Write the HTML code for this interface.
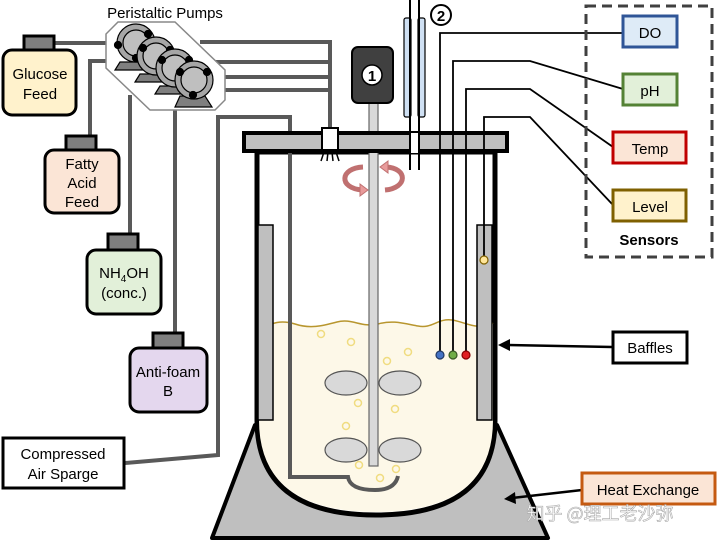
<!DOCTYPE html>
<html><head><meta charset="utf-8"><style>
html,body{margin:0;padding:0;background:#fff;}
svg{display:block;font-family:"Liberation Sans","Noto Sans CJK SC",sans-serif;}
</style></head><body>
<svg width="720" height="542" viewBox="0 0 720 542" xmlns="http://www.w3.org/2000/svg">
<!-- base -->
<polygon points="255,425 497,425 548,538 212,538" fill="#bfbfbf" stroke="#000" stroke-width="4" stroke-linejoin="round"/>
<!-- vessel -->
<path d="M257,152 L257,420 Q257,515 376,515 Q495,515 495,420 L495,152 Z" fill="#fff" stroke="#000" stroke-width="5"/>
<!-- liquid -->
<path d="M259,330 C272,322 282,320 295,324 C310,329 322,326 337,322 C352,318 362,328 378,324 C392,320 402,323 418,326 C432,329 438,318 452,320 C466,322 476,331 493,323 L493,420 Q493,512 376,512 Q259,512 259,420 Z" fill="#fdf8e8"/>
<path d="M259,330 C272,322 282,320 295,324 C310,329 322,326 337,322 C352,318 362,328 378,324 C392,320 402,323 418,326 C432,329 438,318 452,320 C466,322 476,331 493,323" fill="none" stroke="#b8962e" stroke-width="1.5"/>
<!-- baffles -->
<rect x="258" y="225" width="15" height="195" fill="#bfbfbf" stroke="#000" stroke-width="1.5"/>
<rect x="477" y="225" width="15" height="195" fill="#bfbfbf" stroke="#000" stroke-width="1.5"/>
<!-- bubbles -->
<g fill="none" stroke="#f0dc80" stroke-width="1.5">
<circle cx="321" cy="334" r="3.5"/><circle cx="351" cy="342" r="3.5"/><circle cx="387" cy="361" r="3.5"/><circle cx="408" cy="352" r="3.5"/>
<circle cx="358" cy="403" r="3.5"/><circle cx="395" cy="409" r="3.5"/><circle cx="346" cy="426" r="3.5"/><circle cx="359" cy="465" r="3.5"/><circle cx="396" cy="469" r="3.5"/><circle cx="380" cy="478" r="3.5"/>
</g>
<!-- impellers -->
<g fill="#d9d9d9" stroke="#555" stroke-width="1.2">
<ellipse cx="346" cy="383" rx="21" ry="12"/><ellipse cx="400" cy="383" rx="21" ry="12"/>
<ellipse cx="346" cy="450" rx="21" ry="12"/><ellipse cx="400" cy="450" rx="21" ry="12"/>
</g>
<!-- shaft -->
<rect x="369" y="100" width="9" height="366" fill="#d9d9d9" stroke="#666" stroke-width="1.2"/>
<!-- sparge line -->
<path d="M125,463 L218,455 L218,117 L290,117 L290,477 L348,477 Q350,490 375,490 Q395,490 398,476" fill="none" stroke="#595959" stroke-width="4"/>
<!-- lid -->
<rect x="244" y="133" width="263" height="18" fill="#bfbfbf" stroke="#000" stroke-width="4"/>
<!-- element 2 -->
<rect x="404" y="18" width="7" height="99" rx="2" fill="#cfe0f3" stroke="#000" stroke-width="1.2"/>
<rect x="418" y="18" width="7" height="99" rx="2" fill="#cfe0f3" stroke="#000" stroke-width="1.2"/>
<line x1="410" y1="0" x2="410" y2="170" stroke="#000" stroke-width="2"/>
<line x1="419" y1="0" x2="419" y2="170" stroke="#000" stroke-width="2"/>
<rect x="411" y="133" width="7" height="20" fill="#fff"/>
<circle cx="441" cy="15" r="10" fill="#fff" stroke="#000" stroke-width="2"/>
<text x="441" y="21" font-size="15" font-weight="bold" text-anchor="middle">2</text>
<!-- motor -->
<rect x="352" y="47" width="41" height="56" rx="6" fill="#404040" stroke="#000" stroke-width="2"/>
<circle cx="372" cy="75" r="10" fill="#fff" stroke="#000" stroke-width="1.5"/>
<text x="372" y="81" font-size="15" font-weight="bold" text-anchor="middle">1</text>
<!-- rotation arrows -->
<path d="M363,167 C340,168 338,188 362,190" fill="none" stroke="#c07070" stroke-width="5"/>
<path d="M385,190 C408,188 408,168 386,167" fill="none" stroke="#c07070" stroke-width="5"/>
<path d="M360,184 L368,190 L360,196 Z" fill="#e89a9a" stroke="#c07070"/>
<path d="M388,161 L380,167 L388,173 Z" fill="#e89a9a" stroke="#c07070"/>
<!-- probes -->
<g fill="none" stroke="#000" stroke-width="1.8">
<path d="M440,355 L440,33 L623,33"/>
<path d="M453,355 L453,61 L530,61 L623,89"/>
<path d="M466,355 L466,89 L530,89 L613,147"/>
<path d="M484,258 L484,117 L530,117 L613,205"/>
</g>
<circle cx="440" cy="355" r="4" fill="#4472c4" stroke="#203864" stroke-width="1.2"/>
<circle cx="453" cy="355" r="4" fill="#70ad47" stroke="#385723" stroke-width="1.2"/>
<circle cx="466" cy="355" r="4" fill="#e02020" stroke="#800" stroke-width="1.2"/>
<circle cx="484" cy="260" r="4" fill="#ffe699" stroke="#7f6000" stroke-width="1.2"/>
<!-- sensors -->
<rect x="586" y="6" width="126" height="251" fill="none" stroke="#404040" stroke-width="3" stroke-dasharray="10,6"/>
<rect x="623" y="16" width="54" height="31" fill="#deebf7" stroke="#2f5597" stroke-width="3"/>
<text x="650" y="38" font-size="15" text-anchor="middle">DO</text>
<rect x="623" y="74" width="54" height="31" fill="#e2f0d9" stroke="#548235" stroke-width="3"/>
<text x="650" y="96" font-size="15" text-anchor="middle">pH</text>
<rect x="613" y="132" width="73" height="31" fill="#fbe5d6" stroke="#c00000" stroke-width="3"/>
<text x="650" y="154" font-size="15" text-anchor="middle">Temp</text>
<rect x="613" y="190" width="73" height="31" fill="#fff2cc" stroke="#7f6000" stroke-width="3"/>
<text x="650" y="212" font-size="15" text-anchor="middle">Level</text>
<text x="649" y="245" font-size="15" font-weight="bold" text-anchor="middle">Sensors</text>
<!-- baffles label -->
<line x1="612" y1="347" x2="506" y2="345" stroke="#000" stroke-width="2.5"/>
<path d="M498,345 L510,339 L510,351 Z"/>
<rect x="613" y="332" width="74" height="31" fill="#fff" stroke="#000" stroke-width="3"/>
<text x="650" y="353" font-size="15" text-anchor="middle">Baffles</text>
<!-- heat exchange -->
<line x1="582" y1="490" x2="512" y2="498" stroke="#000" stroke-width="2.5"/>
<path d="M504,499 L515,492 L516,504 Z"/>
<rect x="582" y="473" width="133" height="31" fill="#fbe5d6" stroke="#c55a11" stroke-width="3"/>
<text x="648" y="495" font-size="15" text-anchor="middle">Heat Exchange</text>
<!-- feed lines -->
<g fill="none" stroke="#595959" stroke-width="4">
<path d="M54,43 L110,43"/>
<path d="M90,140 L90,61 L112,61"/>
<path d="M130,234 L130,95"/>
<path d="M175,333 L175,105"/>
<path d="M200,42 L330,42 L330,130"/>
<path d="M215,62 L330,62"/><path d="M220,77 L330,77"/><path d="M220,90 L330,90"/>
</g>
<!-- nozzle -->
<rect x="322" y="128" width="16" height="22" fill="#fff" stroke="#000" stroke-width="2"/>
<g stroke="#000" stroke-width="1.5"><line x1="324" y1="152" x2="321" y2="161"/><line x1="328" y1="152" x2="327" y2="161"/><line x1="332" y1="152" x2="333" y2="161"/><line x1="336" y1="152" x2="339" y2="161"/></g>
<!-- pumps -->
<polygon points="118,22 175,22 225,70 225,100 215,110 150,110 106,68 106,34" fill="#fff" stroke="#888" stroke-width="1.5"/>
<g stroke="#000" stroke-width="1.2">
<g><polygon points="120,62 145,62 150,70 115,70" fill="#7f7f7f"/><circle cx="136" cy="43" r="19" fill="#a6a6a6"/><circle cx="136" cy="43" r="13" fill="#bfbfbf"/><circle cx="148" cy="34" r="3.5" fill="#000"/><circle cx="118" cy="45" r="3.5" fill="#000"/><circle cx="136" cy="58" r="3.5" fill="#000"/></g>
<g><polygon points="140,74 165,74 170,82 135,82" fill="#7f7f7f"/><circle cx="156" cy="56" r="19" fill="#a6a6a6"/><circle cx="156" cy="56" r="13" fill="#bfbfbf"/><circle cx="143" cy="48" r="3.5" fill="#000"/><circle cx="170" cy="50" r="3.5" fill="#000"/></g>
<g><polygon points="160,86 185,86 190,94 155,94" fill="#7f7f7f"/><circle cx="175" cy="68" r="19" fill="#a6a6a6"/><circle cx="175" cy="68" r="13" fill="#bfbfbf"/><circle cx="162" cy="60" r="3.5" fill="#000"/><circle cx="189" cy="60" r="3.5" fill="#000"/></g>
<g><polygon points="180,96 205,96 212,107 175,107" fill="#7f7f7f"/><circle cx="194" cy="80" r="19" fill="#a6a6a6"/><circle cx="194" cy="80" r="13" fill="#bfbfbf"/><circle cx="180" cy="72" r="3.5" fill="#000"/><circle cx="207" cy="72" r="3.5" fill="#000"/><circle cx="193" cy="95" r="3.5" fill="#000"/></g>
</g>
<text x="165" y="18" font-size="15" text-anchor="middle">Peristaltic Pumps</text>
<!-- bottles -->
<g stroke="#000" stroke-width="3">
<rect x="24" y="36" width="30" height="14" fill="#7f7f7f"/>
<rect x="3" y="50" width="73" height="65" rx="9" fill="#fff2cc"/>
<rect x="66" y="136" width="30" height="14" fill="#7f7f7f"/>
<rect x="45" y="150" width="74" height="63" rx="9" fill="#fbe5d6"/>
<rect x="108" y="234" width="30" height="16" fill="#7f7f7f"/>
<rect x="87" y="250" width="74" height="64" rx="9" fill="#e2f0d9"/>
<rect x="153" y="333" width="30" height="15" fill="#7f7f7f"/>
<rect x="130" y="348" width="77" height="64" rx="9" fill="#e4d7ee"/>
<rect x="3" y="438" width="121" height="50" fill="#fff"/>
</g>
<g font-size="15" text-anchor="middle">
<text x="40" y="79">Glucose</text><text x="40" y="99">Feed</text>
<text x="82" y="169">Fatty</text><text x="82" y="188">Acid</text><text x="82" y="207">Feed</text>
<text x="124" y="278">NH<tspan font-size="10" dy="4">4</tspan><tspan dy="-4">OH</tspan></text><text x="124" y="298">(conc.)</text>
<text x="168" y="377">Anti-foam</text><text x="168" y="396">B</text>
<text x="63" y="459">Compressed</text><text x="63" y="479">Air Sparge</text>
</g>
<text x="600" y="520" font-size="18" fill="#fff" stroke="#aaa" stroke-width="0.6" text-anchor="middle" font-family="'Noto Sans CJK SC',sans-serif">知乎 @理工老沙弥</text>
</svg>
</body></html>
